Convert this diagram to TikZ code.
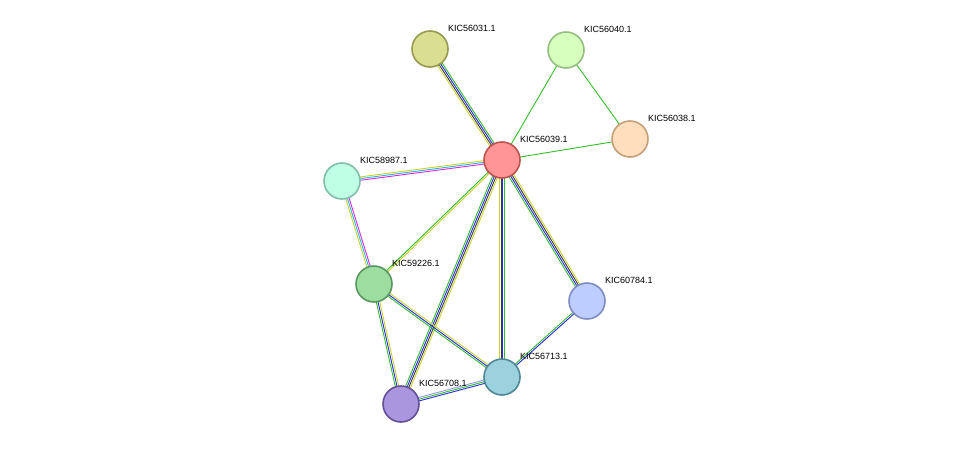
\documentclass[tikz,border=0pt]{standalone}
\usepackage{fontspec}
\setmainfont{Liberation Sans}
\usetikzlibrary{calc,positioning}
\definecolor{tm}{RGB}{50,190,40}
\definecolor{tb}{RGB}{40,40,230}
\definecolor{tk}{RGB}{60,60,60}
\definecolor{ty}{RGB}{200,210,40}
\definecolor{tp}{RGB}{220,40,220}
\definecolor{tc}{RGB}{40,180,220}
\definecolor{tl}{RGB}{150,150,240}
\tikzset{
  prot/.style={draw, circle, line width=1.6pt, minimum size=36pt, inner sep=0pt},
  lab/.style={anchor=west, font=\fontsize{9}{10}\selectfont, inner sep=0pt},
  ln/.style={line width=0.9pt}
}
% multi coloured edge: #1 #2 nodes, #3 count, #4 colours
\newcommand{\medge}[4]{%
  \foreach \c [count=\i] in {#4} {
    \pgfmathsetmacro{\o}{(\i-(#3+1)/2)*1.7}
    \draw[ln, \c] ($(#1)!\o pt!90:(#2)$) -- ($(#2)!\o pt!-90:(#1)$);
  }}
\begin{document}
\begin{tikzpicture}[x=1pt,y=-1pt]
  \useasboundingbox (0,0) rectangle (976,450);
  % nodes
  \coordinate (c39) at (502,160);
  \coordinate (c31) at (430,49);
  \coordinate (c40) at (566,50);
  \coordinate (c38) at (630,139);
  \coordinate (c87) at (342,181);
  \coordinate (c26) at (374,284);
  \coordinate (c84) at (587,301);
  \coordinate (c13) at (502,377);
  \coordinate (c08) at (401,404);
  % edges
  \medge{c39}{c31}{4}{tm,tb,tk,ty}
  \medge{c39}{c40}{1}{tm}
  \medge{c40}{c38}{1}{tm}
  \medge{c39}{c38}{1}{tm}
  \medge{c39}{c87}{3}{ty,tc,tp}
  \medge{c39}{c26}{2}{tm,ty}
  \medge{c39}{c08}{4}{tm,tb,tk,ty}
  \medge{c39}{c13}{4}{ty,tk,tb,tm}
  \medge{c39}{c84}{4}{tm,tb,tk,ty}
  \medge{c87}{c26}{3}{ty,tc,tp}
  \medge{c26}{c08}{3}{tm,tb,ty}
  \medge{c26}{c13}{3}{tm,tb,ty}
  \medge{c84}{c13}{2}{tm,tb}
  \medge{c08}{c13}{3}{tb,tm,tl}
  % proteins
  \node[prot, fill={rgb,255:red,255;green,150;blue,150}, draw={rgb,255:red,190;green,80;blue,80}] (n39) at (c39) {};
  \node[prot, fill={rgb,255:red,218;green,222;blue,145}, draw={rgb,255:red,150;green,155;blue,80}] (n31) at (c31) {};
  \node[prot, fill={rgb,255:red,215;green,255;blue,190}, draw={rgb,255:red,150;green,190;blue,130}] (n40) at (c40) {};
  \node[prot, fill={rgb,255:red,255;green,222;blue,190}, draw={rgb,255:red,195;green,160;blue,120}] (n38) at (c38) {};
  \node[prot, fill={rgb,255:red,190;green,255;blue,230}, draw={rgb,255:red,130;green,190;blue,170}] (n87) at (c87) {};
  \node[prot, fill={rgb,255:red,155;green,222;blue,160}, draw={rgb,255:red,90;green,150;blue,95}] (n26) at (c26) {};
  \node[prot, fill={rgb,255:red,190;green,205;blue,255}, draw={rgb,255:red,125;green,140;blue,195}] (n84) at (c84) {};
  \node[prot, fill={rgb,255:red,155;green,210;blue,222}, draw={rgb,255:red,80;green,135;blue,150}] (n13) at (c13) {};
  \node[prot, fill={rgb,255:red,170;green,150;blue,222}, draw={rgb,255:red,100;green,80;blue,150}] (n08) at (c08) {};
  % labels
  \node[lab] at ($(c39)+(18,-21)$) {KIC56039.1};
  \node[lab] at ($(c31)+(18,-21)$) {KIC56031.1};
  \node[lab] at ($(c40)+(18,-21)$) {KIC56040.1};
  \node[lab] at ($(c38)+(18,-21)$) {KIC56038.1};
  \node[lab] at ($(c87)+(18,-21)$) {KIC58987.1};
  \node[lab] at ($(c26)+(18,-21)$) {KIC59226.1};
  \node[lab] at ($(c84)+(18,-21)$) {KIC60784.1};
  \node[lab] at ($(c13)+(18,-21)$) {KIC56713.1};
  \node[lab] at ($(c08)+(18,-21)$) {KIC56708.1};
\end{tikzpicture}
\end{document}
